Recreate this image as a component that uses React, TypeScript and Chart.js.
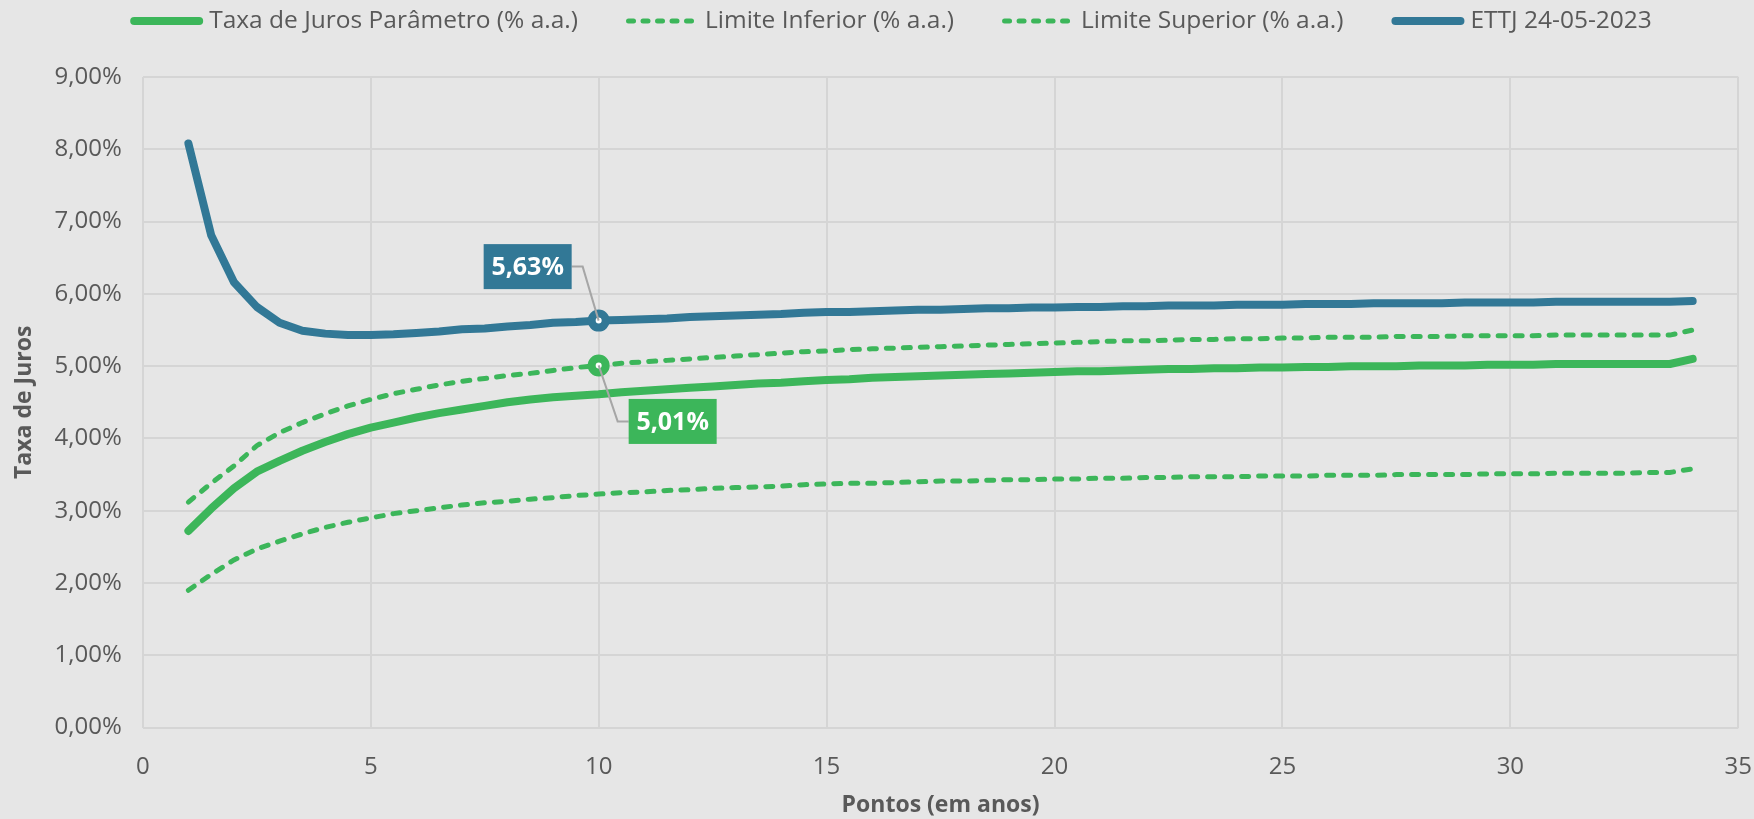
import React, { useEffect, useRef } from 'react';
import { Chart, registerables } from 'chart.js';

Chart.register(...registerables);

const YEARS = [1, 1.5, 2, 2.5, 3, 3.5, 4, 4.5, 5, 5.5, 6, 6.5, 7, 7.5, 8, 8.5, 9, 9.5, 10, 10.5, 11, 11.5, 12, 12.5, 13, 13.5, 14, 14.5, 15, 15.5, 16, 16.5, 17, 17.5, 18, 18.5, 19, 19.5, 20, 20.5, 21, 21.5, 22, 22.5, 23, 23.5, 24, 24.5, 25, 25.5, 26, 26.5, 27, 27.5, 28, 28.5, 29, 29.5, 30, 30.5, 31, 31.5, 32, 32.5, 33, 33.5, 34];

const TAXA_PARAMETRO = [
  2.72, 3.03, 3.31, 3.54, 3.69, 3.83, 3.95, 4.06, 4.15, 4.22,
  4.29, 4.35, 4.40, 4.45, 4.50, 4.54, 4.57, 4.59, 4.61, 4.64,
  4.66, 4.68, 4.70, 4.72, 4.74, 4.76, 4.77, 4.79, 4.81, 4.82,
  4.84, 4.85, 4.86, 4.87, 4.88, 4.89, 4.90, 4.91, 4.92, 4.93,
  4.93, 4.94, 4.95, 4.96, 4.96, 4.97, 4.97, 4.98, 4.98, 4.99,
  4.99, 5.00, 5.00, 5.00, 5.01, 5.01, 5.01, 5.02, 5.02, 5.02,
  5.03, 5.03, 5.03, 5.03, 5.03, 5.03, 5.10,
];

const LIMITE_INFERIOR = [
  1.90, 2.12, 2.32, 2.47, 2.58, 2.68, 2.77, 2.84, 2.90, 2.96,
  3.00, 3.04, 3.08, 3.11, 3.13, 3.16, 3.18, 3.21, 3.23, 3.25,
  3.26, 3.28, 3.29, 3.31, 3.32, 3.33, 3.34, 3.36, 3.37, 3.38,
  3.38, 3.39, 3.40, 3.41, 3.41, 3.42, 3.43, 3.43, 3.44, 3.44,
  3.45, 3.45, 3.46, 3.46, 3.47, 3.47, 3.47, 3.48, 3.48, 3.48,
  3.49, 3.49, 3.49, 3.50, 3.50, 3.50, 3.50, 3.51, 3.51, 3.51,
  3.52, 3.52, 3.52, 3.52, 3.53, 3.53, 3.58,
];

const LIMITE_SUPERIOR = [
  3.12, 3.38, 3.62, 3.90, 4.08, 4.22, 4.34, 4.45, 4.54, 4.62,
  4.68, 4.74, 4.79, 4.83, 4.87, 4.90, 4.94, 4.98, 5.01, 5.04,
  5.06, 5.08, 5.10, 5.12, 5.14, 5.16, 5.18, 5.20, 5.21, 5.23,
  5.24, 5.25, 5.26, 5.27, 5.28, 5.29, 5.30, 5.31, 5.32, 5.33,
  5.34, 5.35, 5.35, 5.36, 5.37, 5.37, 5.38, 5.38, 5.39, 5.39,
  5.40, 5.40, 5.40, 5.41, 5.41, 5.41, 5.42, 5.42, 5.42, 5.42,
  5.43, 5.43, 5.43, 5.43, 5.43, 5.43, 5.50,
];

const ETTJ = [
  8.08, 6.81, 6.16, 5.82, 5.60, 5.49, 5.45, 5.43, 5.43, 5.44,
  5.46, 5.48, 5.51, 5.52, 5.55, 5.57, 5.60, 5.61, 5.63, 5.64,
  5.65, 5.66, 5.68, 5.69, 5.70, 5.71, 5.72, 5.74, 5.75, 5.75,
  5.76, 5.77, 5.78, 5.78, 5.79, 5.80, 5.80, 5.81, 5.81, 5.82,
  5.82, 5.83, 5.83, 5.84, 5.84, 5.84, 5.85, 5.85, 5.85, 5.86,
  5.86, 5.86, 5.87, 5.87, 5.87, 5.87, 5.88, 5.88, 5.88, 5.88,
  5.89, 5.89, 5.89, 5.89, 5.89, 5.89, 5.90,
];

const SERIES_LABELS = [
  'Taxa de Juros Parâmetro (% a.a.)',
  'Limite Inferior (% a.a.)',
  'Limite Superior (% a.a.)',
  'ETTJ 24-05-2023',
];

const HIGHLIGHT_YEAR = 10;
const X_TITLE = 'Pontos (em anos)';
const Y_TITLE = 'Taxa de Juros';

const GREEN = '#3cb65a';
const BLUE = '#327896';
const TEXT = '#595959';
const BG = '#e6e6e6';
const GRID = '#d5d5d5';
const FONT = '"Open Sans", sans-serif';

const fmtPct = (v: number) => v.toFixed(2).replace('.', ',') + '%';

const toPoints = (vals: number[]) => YEARS.map((x, i) => ({ x, y: vals[i] }));

const hiIdx = YEARS.indexOf(HIGHLIGHT_YEAR);

const legendPlugin = {
  id: 'customLegend',
  afterDraw(chart: any) {
    const ctx = chart.ctx as CanvasRenderingContext2D;
    const dsets = chart.data.datasets;
    ctx.save();
    ctx.font = `24.5px ${FONT}`;
    const lineLen = 73;
    const gap = 6;
    const spacing = 48;
    const widths = dsets.map((d: any) => ctx.measureText(d.label).width);
    const total = widths.reduce((a: number, b: number) => a + b, 0) + dsets.length * (lineLen + gap) + (dsets.length - 1) * spacing;
    let x = chart.width / 2 + 14 - total / 2;
    const cy = 21;
    dsets.forEach((d: any, i: number) => {
      ctx.beginPath();
      ctx.setLineDash(d.borderDash ? [5, 9.5] : []);
      ctx.lineWidth = d.borderWidth;
      ctx.lineCap = 'round';
      ctx.strokeStyle = d.borderColor;
      const r = d.borderWidth / 2;
      ctx.moveTo(x + r, cy);
      ctx.lineTo(x + lineLen - r, cy);
      ctx.stroke();
      ctx.setLineDash([]);
      ctx.fillStyle = TEXT;
      ctx.textBaseline = 'middle';
      ctx.textAlign = 'left';
      ctx.fillText(d.label, x + lineLen + gap, cy);
      x += lineLen + gap + widths[i] + spacing;
    });
    ctx.restore();
  },
};

const annotPlugin = {
  id: 'annotLabels',
  afterDatasetsDraw(chart: any) {
    const ctx = chart.ctx as CanvasRenderingContext2D;
    const xs = chart.scales.x;
    const ys = chart.scales.y;
    const px = xs.getPixelForValue(HIGHLIGHT_YEAR);
    const boxW = 88;
    const boxH = 45;
    ctx.save();
    ctx.lineWidth = 2;
    ctx.strokeStyle = '#a6a6a6';
    ctx.font = `bold 25px ${FONT}`;
    ctx.textAlign = 'center';
    ctx.textBaseline = 'middle';

    // ETTJ label (above-left)
    const vb = ETTJ[hiIdx];
    const pyb = ys.getPixelForValue(vb);
    const bRight = px - 27;
    const bcy = pyb - 54;
    ctx.beginPath();
    ctx.moveTo(bRight, bcy);
    ctx.lineTo(px - 16, bcy);
    ctx.lineTo(px, pyb);
    ctx.stroke();
    ctx.fillStyle = BLUE;
    ctx.fillRect(bRight - boxW, bcy - boxH / 2, boxW, boxH);
    ctx.fillStyle = '#ffffff';
    ctx.fillText(fmtPct(vb), bRight - boxW / 2, bcy + 1);

    // Limite Superior label (below-right)
    const vg = LIMITE_SUPERIOR[hiIdx];
    const pyg = ys.getPixelForValue(vg);
    const gLeft = px + 30;
    const gcy = pyg + 56;
    ctx.beginPath();
    ctx.moveTo(px, pyg);
    ctx.lineTo(px + 19, gcy);
    ctx.lineTo(gLeft, gcy);
    ctx.stroke();
    ctx.fillStyle = GREEN;
    ctx.fillRect(gLeft, gcy - boxH / 2, boxW, boxH);
    ctx.fillStyle = '#ffffff';
    ctx.fillText(fmtPct(vg), gLeft + boxW / 2, gcy + 1);
    ctx.restore();
  },
};

const hiRadius = (c: any) => (c.dataIndex === hiIdx ? 7 : 0);

export default function App() {
  const ref = useRef<HTMLCanvasElement | null>(null);

  useEffect(() => {
    if (!ref.current) return;
    const chart = new Chart(ref.current, {
      type: 'line',
      data: {
        datasets: [
          {
            label: SERIES_LABELS[0],
            data: toPoints(TAXA_PARAMETRO),
            borderColor: GREEN,
            backgroundColor: GREEN,
            borderWidth: 8,
            borderCapStyle: 'round',
            borderJoinStyle: 'round',
            pointRadius: 0,
            order: 3,
          },
          {
            label: SERIES_LABELS[1],
            data: toPoints(LIMITE_INFERIOR),
            borderColor: GREEN,
            backgroundColor: GREEN,
            borderWidth: 5,
            borderDash: [7, 10],
            borderCapStyle: 'round',
            pointRadius: 0,
            order: 2,
          },
          {
            label: SERIES_LABELS[2],
            data: toPoints(LIMITE_SUPERIOR),
            borderColor: GREEN,
            backgroundColor: '#ffffff',
            borderWidth: 5,
            borderDash: [7, 10],
            borderCapStyle: 'round',
            pointRadius: hiRadius,
            pointBorderWidth: 8,
            pointBorderColor: GREEN,
            pointBackgroundColor: '#ffffff',
            order: 1,
          },
          {
            label: SERIES_LABELS[3],
            data: toPoints(ETTJ),
            borderColor: BLUE,
            backgroundColor: '#ffffff',
            borderWidth: 8,
            borderCapStyle: 'round',
            borderJoinStyle: 'round',
            pointRadius: hiRadius,
            pointBorderWidth: 8,
            pointBorderColor: BLUE,
            pointBackgroundColor: '#ffffff',
            order: 0,
          },
        ] as any,
      },
      options: {
        animation: false,
        responsive: true,
        maintainAspectRatio: false,
        layout: { padding: { top: 77, right: 4, bottom: 0, left: 6 } },
        elements: { line: { tension: 0 } },
        plugins: {
          legend: { display: false },
          tooltip: { enabled: false },
        },
        scales: {
          x: {
            type: 'linear',
            min: 0,
            max: 35,
            ticks: {
              stepSize: 5,
              color: TEXT,
              font: { size: 24, family: FONT },
              padding: 2,
            },
            grid: { color: GRID, lineWidth: 2, drawTicks: true, tickLength: 23, tickColor: 'rgba(0,0,0,0)' },
            border: { display: false },
            title: {
              display: true,
              text: X_TITLE,
              color: TEXT,
              font: { size: 23, family: FONT, weight: 'bold' },
              padding: { top: 8, bottom: 0 },
            },
          },
          y: {
            type: 'linear',
            min: 0,
            max: 9,
            ticks: {
              stepSize: 1,
              color: TEXT,
              font: { size: 24, family: FONT },
              padding: 21,
              callback: (v: any) => fmtPct(Number(v)),
            },
            grid: { color: GRID, lineWidth: 2, drawTicks: false },
            border: { display: false },
            title: {
              display: true,
              text: Y_TITLE,
              color: TEXT,
              font: { size: 23, family: FONT, weight: 'bold' },
              padding: { top: 5, bottom: -5 },
            },
          },
        },
      },
      plugins: [annotPlugin, legendPlugin],
    });
    return () => chart.destroy();
  }, []);

  return (
    <div style={{ position: 'fixed', left: 0, top: 0, width: 1754, height: 819, background: BG }}>
      <canvas ref={ref} />
    </div>
  );
}
